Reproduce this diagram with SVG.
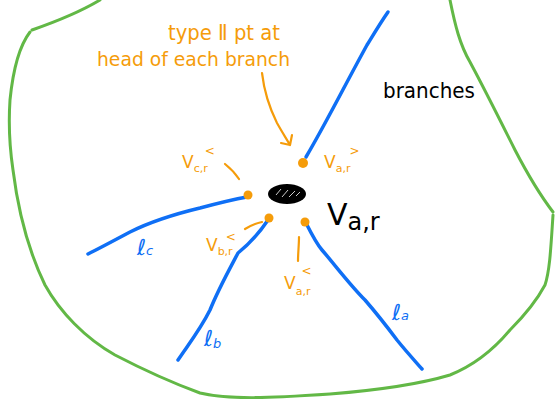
<svg xmlns="http://www.w3.org/2000/svg" width="555" height="399" viewBox="0 0 555 399">
<style>
.green{fill:none;stroke:#62b846;stroke-width:3;stroke-linecap:round;stroke-linejoin:round}
.blue{fill:none;stroke:#0f6ff5;stroke-width:3.5;stroke-linecap:round;stroke-linejoin:round}
.or{fill:none;stroke:#f59c0a;stroke-width:2.2;stroke-linecap:round;stroke-linejoin:round}
.dot{fill:#f59c0a}
.ot{fill:#f59c0a;font-family:"DejaVu Sans",sans-serif}
.bt{fill:#0f6ff5;font-family:"DejaVu Sans",sans-serif;font-style:italic}
.kt{fill:#000;font-family:"DejaVu Sans",sans-serif}
</style>
<rect width="555" height="399" fill="#fff"/>
<g id="boundary">
<path class="green" d="M30,32 C20,45 13,70 10,100 C8,130 10,150 13,170 C18,210 28,250 45,285 C60,312 85,338 115,355 C140,368 170,382 200,393 C230,400 270,398 330,394 C380,390 420,384 450,375 C475,365 495,348 510,330 C525,315 537,300 545,285 C550,270 551,245 553,215"/>
<path class="green" d="M32,30 C55,22 80,12 100,0"/>
<path class="green" d="M450,0 C455,25 460,45 470,62 C485,90 500,120 515,150 C528,175 540,195 553,212"/>
</g>
<g id="connectors">
<path class="blue" d="M306,157 C325,125 345,85 367,45 C375,32 381,22 388,12"/>
<path class="blue" d="M247,197 C230,200 215,204 200,208 C175,214 150,222 130,232 C115,240 100,248 88,254"/>
<path class="blue" d="M268,220 C258,235 248,245 238,253 C228,272 218,290 210,310 C200,330 188,345 178,360"/>
<path class="blue" d="M306,223 C312,235 316,243 322,250 C335,265 350,285 365,300 C378,315 388,328 397,340 C405,350 414,360 422,369"/>
<path class="or" d="M262,73 C264,90 268,105 277,123 C282,132 286,138 290,145 M281,143 L290,145 L292,135"/>
<path class="or" d="M225,164 C230,168 235,173 239,179"/>
<path class="or" d="M245,229 C250,226 256,223 262,222"/>
<path class="or" d="M299,237 C299,245 298,253 298,261"/>
</g>
<g id="junction">
<ellipse cx="287" cy="194" rx="19" ry="10" fill="#000"/>
<path d="M276,195 L281,189 M282,197 L288,190 M289,197 L295,191 M296,196 L300,192" stroke="#fff" stroke-width="1" fill="none" opacity="0.8"/>
</g>
<g id="heads">
<circle class="dot" cx="303" cy="163" r="5"/>
<circle class="dot" cx="248" cy="195" r="4.5"/>
<circle class="dot" cx="269" cy="218" r="4.5"/>
<circle class="dot" cx="305" cy="222" r="4.5"/>
</g>
<g id="note">
<text class="ot" x="168" y="40" font-size="22" textLength="112" lengthAdjust="spacingAndGlyphs">type Ⅱ pt at</text>
<text class="ot" x="97" y="66" font-size="19" textLength="193" lengthAdjust="spacingAndGlyphs">head of each branch</text>
</g>
<g id="label-branches">
<text class="kt" x="383" y="98" font-size="22" textLength="92" lengthAdjust="spacingAndGlyphs">branches</text>
</g>
<g id="label-Var">
<text class="kt" x="327" y="225" font-size="30">V<tspan font-size="24" dy="5">a,r</tspan></text>
</g>
<g id="label-Vcr">
<text class="ot" x="182" y="168" font-size="17">V<tspan font-size="11" dy="4">c,r</tspan><tspan font-size="12" dx="-3" dy="-17">&lt;</tspan></text>
</g>
<g id="label-Var-gt">
<text class="ot" x="324" y="168" font-size="17">V<tspan font-size="11" dy="4">a,r</tspan><tspan font-size="12" dx="-1" dy="-17">&gt;</tspan></text>
</g>
<g id="label-Vbr">
<text class="ot" x="206" y="251" font-size="17">V<tspan font-size="11" dy="4">b,r</tspan><tspan font-size="12" dx="-7" dy="-14">&lt;</tspan></text>
</g>
<g id="label-Var-lt">
<text class="ot" x="284" y="289" font-size="17">V<tspan font-size="11" dy="6">a,r</tspan><tspan font-size="12" dx="-9" dy="-20">&lt;</tspan></text>
</g>
<g id="label-lc">
<text class="bt" x="137" y="255" font-size="22">ℓ<tspan font-size="13">c</tspan></text>
</g>
<g id="label-lb">
<text class="bt" x="204" y="346" font-size="22">ℓ<tspan font-size="13" dy="2">b</tspan></text>
</g>
<g id="label-la">
<text class="bt" x="392" y="320" font-size="22">ℓ<tspan font-size="13">a</tspan></text>
</g>
</svg>
